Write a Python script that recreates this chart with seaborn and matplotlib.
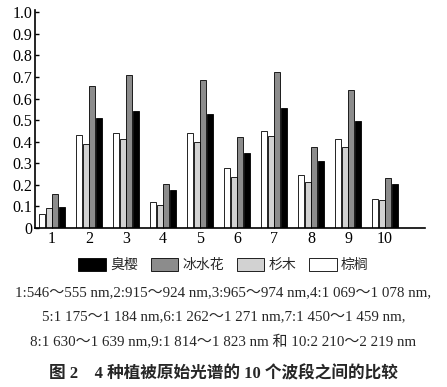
import pandas as pd
import numpy as np
import matplotlib
matplotlib.use('Agg')
import matplotlib.pyplot as plt
import seaborn as sns
from matplotlib.patches import Patch

bands = ['1', '2', '3', '4', '5', '6', '7', '8', '9', '10']
zonglv = [0.063, 0.433, 0.442, 0.122, 0.439, 0.277, 0.448, 0.246, 0.411, 0.136]
shamu = [0.092, 0.388, 0.411, 0.107, 0.398, 0.237, 0.425, 0.213, 0.375, 0.131]
bingshuihua = [0.159, 0.657, 0.708, 0.205, 0.688, 0.422, 0.722, 0.375, 0.641, 0.232]
chouying = [0.096, 0.509, 0.540, 0.174, 0.528, 0.346, 0.555, 0.312, 0.498, 0.205]

species = ['棕榈', '杉木', '冰水花', '臭樱']
colors = {'棕榈': '#ffffff', '杉木': '#d2d2d2', '冰水花': '#8c8c8c', '臭樱': '#000000'}

df = pd.DataFrame({
    'band': bands * 4,
    'value': zonglv + shamu + bingshuihua + chouying,
    'species': [s for s in species for _ in bands],
})

sns.set_style('white')
fonts = ['Liberation Serif', 'Noto Sans CJK SC', 'DejaVu Sans']
plt.rcParams['font.family'] = fonts

fig = plt.figure(figsize=(4.47, 3.87), dpi=100)
ax = fig.add_axes([0.078, 0.411, 0.873, 0.563])

sns.barplot(data=df, x='band', y='value', hue='species', hue_order=species,
            palette=colors, edgecolor='black', linewidth=0.6, width=0.72,
            gap=0.1, legend=False, ax=ax)

ax.set_xlim(-0.46, 10.08)
ax.set_ylim(0, 1.01)
ax.set_yticks(np.arange(0, 1.01, 0.1))
ax.set_yticklabels(['0'] + ['%.1f' % v for v in np.arange(0.1, 1.01, 0.1)])
ax.set_xlabel('')
ax.set_ylabel('')
for side in ['top', 'right']:
    ax.spines[side].set_visible(False)
for side in ['left', 'bottom']:
    ax.spines[side].set_color('black')
    ax.spines[side].set_linewidth(1.2)
ax.tick_params(direction='in', length=3, width=1, colors='black',
               labelsize=11.5, pad=2, left=True, bottom=True)

handles = [Patch(facecolor=colors[s], edgecolor='black', linewidth=0.6)
           for s in ['臭樱', '冰水花', '杉木', '棕榈']]
fig.legend(handles, ['臭樱', '冰水花', '杉木', '棕榈'], loc='center',
           bbox_to_anchor=(0.5, 0.315), ncol=4, frameon=False,
           handlelength=2.0, handleheight=1.0, handletextpad=0.3,
           columnspacing=0.9, prop={'family': ['Noto Sans CJK SC'], 'size': 10})

lines = [
    '1:546～555 nm,2:915～924 nm,3:965～974 nm,4:1 069～1 078 nm,',
    '5:1 175～1 184 nm,6:1 262～1 271 nm,7:1 450～1 459 nm,',
    '8:1 630～1 639 nm,9:1 814～1 823 nm 和 10:2 210～2 219 nm',
]
ys = [293, 317, 342]
for t, y in zip(lines, ys):
    fig.text(0.5, 1 - y / 387, t, ha='center', va='center', fontsize=10.8,
             family=fonts)

fig.text(0.5, 1 - 374 / 387, '图 2    4 种植被原始光谱的 10 个波段之间的比较',
         ha='center', va='center', fontsize=12, fontweight='bold', family=fonts)

fig.savefig('out.png', dpi=100)
